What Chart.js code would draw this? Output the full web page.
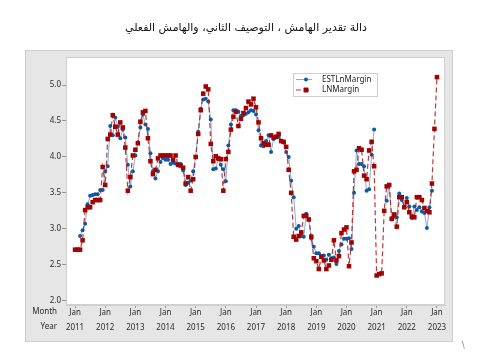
<!DOCTYPE html>
<html>
<head>
<meta charset="utf-8">
<script src="https://cdn.jsdelivr.net/npm/chart.js@4"></script>
<style>
  html, body { margin: 0; padding: 0; background: #fff; }
</style>
</head>
<body>
<canvas id="marginChart" width="484" height="358"></canvas>
<script>
const chartTitle = "دالة تقدير الهامش ، التوصيف الثاني، والهامش الفعلي";
const monthLabel = "Jan";
const yearLabels = ["2011", "2012", "2013", "2014", "2015", "2016", "2017", "2018", "2019", "2020", "2021", "2022", "2023"];
const yTicks = [2.0, 2.5, 3.0, 3.5, 4.0, 4.5, 5.0];

// monthly values, Jan 2011 .. Jan 2023
const estLnMargin = [
    null, null, 2.90, 2.98, 3.07, 3.34, 3.46, 3.47, 3.48, 3.48, 3.54, 3.54,
    3.80, 3.87, 4.43, 4.30, 4.55, 4.42, 4.26, 4.38, 4.27, 3.89, 3.59, 3.80,
    4.02, 4.20, 4.41, 4.59, 4.45, 4.39, 4.05, 3.80, 3.70, 3.80, 3.93, 3.98,
    3.96, 3.96, 3.90, 3.92, 3.91, 3.90, 3.90, 3.81, 3.61, 3.64, 3.67, 3.80,
    4.00, 4.35, 4.67, 4.80, 4.81, 4.77, 4.52, 3.83, 3.84, 3.97, 3.89, 3.83,
    3.66, 4.16, 4.45, 4.65, 4.65, 4.63, 4.57, 4.58, 4.60, 4.62, 4.65, 4.64,
    4.59, 4.37, 4.16, 4.15, 4.22, 4.30, 4.07, 4.25, 4.28, 4.28, 4.22, 4.20,
    4.07, 4.00, 3.67, 3.44, 3.00, 3.04, 2.90, 2.89, 3.21, 3.13, 2.86, 2.75,
    2.66, 2.66, 2.62, 2.63, 2.57, 2.64, 2.59, 2.60, 2.51, 2.69, 2.78, 2.86,
    2.86, 2.87, 2.72, 3.50, 4.09, 3.90, 3.90, 3.87, 3.53, 3.55, 4.03, 4.38,
    null, null, null, null, 3.39, 3.61, 3.13, 3.17, 3.16, 3.49, 3.40, 3.30,
    3.43, 3.31, 3.15, 3.31, 3.26, 3.30, 3.24, 3.22, 3.01, 3.30, 3.53, null,
    null
];
const lnMargin = [
    2.71, 2.71, 2.71, 2.84, 3.26, 3.30, 3.30, 3.37, 3.40, 3.40, 3.40, 3.86,
    3.61, 4.25, 4.31, 4.58, 4.42, 4.31, 4.48, 4.41, 4.13, 3.53, 3.72, 4.02,
    4.10, 4.19, 4.49, 4.62, 4.64, 4.26, 3.94, 3.76, 3.82, 3.98, 4.02, 4.02,
    4.02, 4.02, 4.02, 3.96, 4.02, 3.89, 3.88, 3.85, 3.63, 3.72, 3.53, 3.69,
    4.00, 4.32, 4.65, 4.88, 4.98, 4.94, 4.18, 3.94, 4.01, 3.98, 3.97, 3.53,
    3.97, 4.07, 4.38, 4.56, 4.63, 4.43, 4.53, 4.61, 4.68, 4.77, 4.73, 4.81,
    4.69, 4.48, 4.26, 4.19, 4.17, 4.17, 4.30, 4.27, 4.28, 4.32, 4.22, 4.21,
    4.14, 3.82, 3.50, 2.89, 2.85, 2.90, 2.95, 3.18, 3.18, 3.13, 2.89, 2.59,
    2.55, 2.44, 2.61, 2.56, 2.44, 2.49, 2.57, 2.84, 2.56, 2.62, 2.94, 2.99,
    3.02, 2.48, 2.81, 3.80, 3.82, 4.12, 4.10, 3.74, 3.69, 4.09, 4.21, 3.87,
    2.35, 2.37, 2.38, 3.25, 3.59, 3.61, 3.14, 3.20, 3.03, 3.44, 3.44, 3.30,
    3.37, 3.23, 3.17, 3.16, 3.44, 3.44, 3.40, 3.29, 3.25, 3.23, 3.63, 4.39,
    5.11
];

const blue = "#0b5aa8";
const red = "#a30000";
const tickFont = { family: "Noto Sans", size: 8 };

function toPoints(values) {
    return values.map((v, i) => ({ x: i, y: v }));
}

// grey graph frame, title, legend and the Month/Year row names
const framePlugin = {
    id: "frame",
    beforeDraw(chart) {
        const ctx = chart.ctx;
        const area = chart.chartArea;
        ctx.save();
        ctx.fillStyle = "#ffffff";
        ctx.fillRect(0, 0, chart.width, chart.height);
        ctx.fillStyle = "#e6e6e6";
        ctx.fillRect(25, 50, 428, 292);
        ctx.strokeStyle = "#cdcdcd";
        ctx.lineWidth = 1;
        ctx.strokeRect(25.5, 50.5, 427, 291);
        ctx.fillStyle = "#ffffff";
        ctx.fillRect(area.left, area.top, area.right - area.left, area.bottom - area.top);
        ctx.strokeStyle = "#d0d0d0";
        ctx.strokeRect(area.left + 0.5, area.top + 0.5, area.right - area.left - 1, area.bottom - area.top - 1);

        ctx.fillStyle = "#111";
        ctx.font = "11px 'DejaVu Sans'";
        ctx.textAlign = "center";
        ctx.textBaseline = "middle";
        ctx.direction = "rtl";
        ctx.fillText(chartTitle, 246, 28);
        ctx.restore();
    },
    afterDraw(chart) {
        const ctx = chart.ctx;
        ctx.save();
        ctx.font = "8px 'Noto Sans'";
        ctx.fillStyle = "#2a2a2a";
        ctx.textAlign = "right";
        ctx.textBaseline = "middle";
        ctx.fillText("Month", 57, 312);
        ctx.fillText("Year", 57, 326.5);

        // legend
        ctx.fillStyle = "#ffffff";
        ctx.fillRect(293, 73, 84, 23);
        ctx.strokeStyle = "#cfcfcf";
        ctx.strokeRect(293.5, 73.5, 84, 23);
        const sets = chart.data.datasets;
        const rows = [79.5, 90];
        sets.forEach((ds, i) => {
            const y = rows[i];
            ctx.strokeStyle = ds.borderColor;
            ctx.lineWidth = ds.borderWidth;
            ctx.setLineDash(ds.borderDash || []);
            ctx.beginPath();
            ctx.moveTo(296, y);
            ctx.lineTo(312, y);
            ctx.stroke();
            ctx.setLineDash([]);
            Chart.helpers.drawPoint(ctx, {
                pointStyle: ds.pointStyle, radius: ds.pointRadius, borderWidth: 0
            }, 306, y);
            ctx.fillStyle = ds.pointBackgroundColor;
            ctx.fill();
            ctx.fillStyle = "#222";
            ctx.textAlign = "left";
            ctx.fillText(ds.label, 322, y);
        });

        ctx.fillStyle = "#777";
        ctx.font = "8px 'DejaVu Sans'";
        ctx.fillText("\\", 462, 346);
        ctx.restore();
    }
};

new Chart("marginChart", {
    type: "line",
    data: {
        datasets: [{
            label: "ESTLnMargin",
            data: toPoints(estLnMargin),
            borderColor: "rgba(110,150,195,0.8)",
            borderWidth: 1,
            pointStyle: "circle",
            pointRadius: 2,
            pointBackgroundColor: blue,
            pointBorderColor: blue,
            pointBorderWidth: 0,
            spanGaps: false,
            tension: 0,
            order: 1
        }, {
            label: "LNMargin",
            data: toPoints(lnMargin),
            borderColor: "rgba(170,25,25,0.85)",
            borderWidth: 1.2,
            borderDash: [5, 3],
            pointStyle: "rect",
            pointRadius: 3.2,
            pointBackgroundColor: red,
            pointBorderColor: red,
            pointBorderWidth: 0,
            tension: 0,
            order: 0
        }]
    },
    options: {
        responsive: false,
        animation: false,
        devicePixelRatio: 1,
        layout: { padding: { left: 25, right: 39, top: 57, bottom: 16 } },
        plugins: { legend: { display: false }, tooltip: { enabled: false } },
        scales: {
            x: {
                type: "linear",
                min: -3.6,
                max: 147.2,
                afterBuildTicks: s => { s.ticks = yearLabels.map((_, i) => ({ value: i * 12 })); },
                afterFit: s => { s.height = 37; },
                ticks: {
                    callback: v => [monthLabel, yearLabels[Math.round(v / 12)]],
                    font: Object.assign({ lineHeight: 1.8 }, tickFont),
                    color: "#2a2a2a",
                    maxRotation: 0,
                    autoSkip: false,
                    padding: -2
                },
                grid: { drawOnChartArea: false, tickLength: 3, color: "#999" },
                border: { color: "#cfcfcf" }
            },
            y: {
                min: 1.94,
                max: 5.39,
                afterBuildTicks: s => { s.ticks = yTicks.map(v => ({ value: v })); },
                afterFit: s => { s.width = 41; },
                ticks: {
                    callback: v => v.toFixed(1),
                    font: tickFont,
                    color: "#2a2a2a",
                    padding: 1
                },
                grid: { drawOnChartArea: false, tickLength: 4, color: "#999" },
                border: { color: "#cfcfcf" }
            }
        }
    },
    plugins: [framePlugin]
});
</script>
</body>
</html>
